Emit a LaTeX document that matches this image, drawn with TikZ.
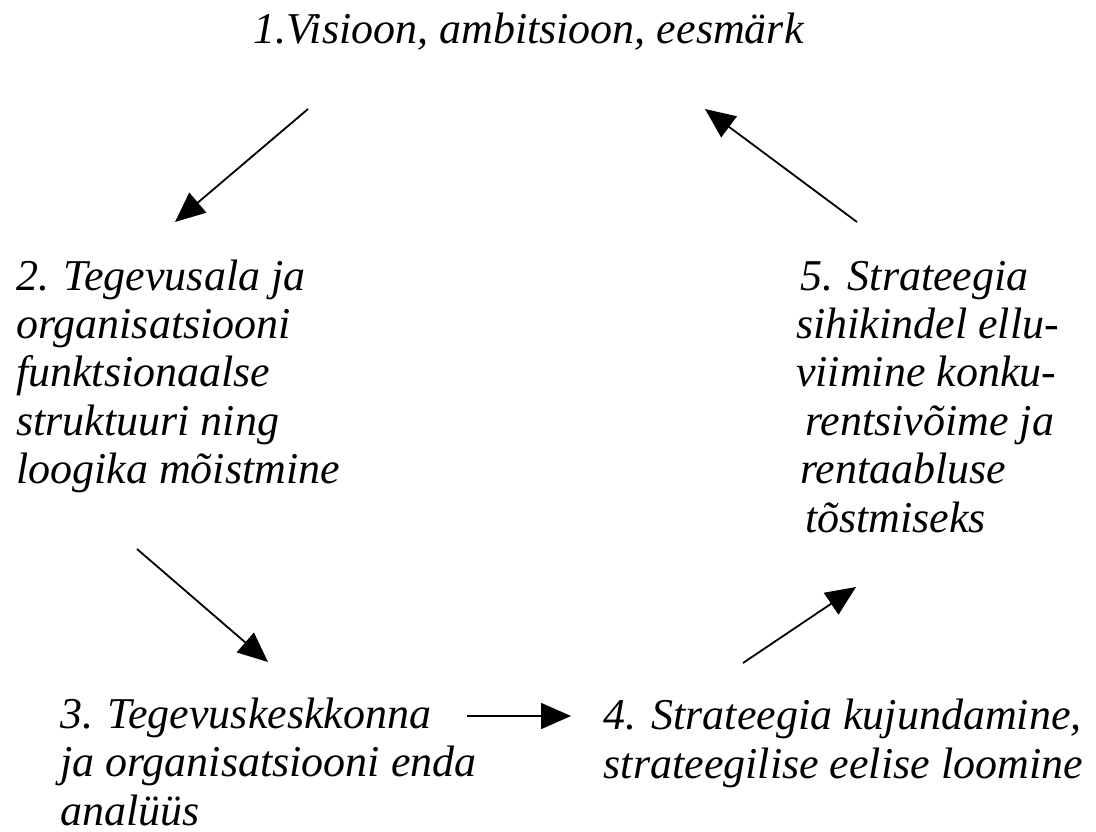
\documentclass[tikz,border=0pt]{standalone}
\usepackage{fontspec}
\setmainfont{Liberation Serif}
\usetikzlibrary{arrows.meta}
\begin{document}
\begin{tikzpicture}[x=1pt,y=-1pt,
  txt/.style={anchor=base west,inner sep=0pt,align=left,font=\itshape\fontsize{44}{48.4}\selectfont},
  txtr/.style={anchor=base east,inner sep=0pt,align=left,font=\itshape\fontsize{44}{48.4}\selectfont},
  arr/.style={line width=1.8pt,-{Triangle[length=30pt,width=26pt]}}]
\useasboundingbox (0,0) rectangle (1096,831);
\node[txt] (n1) at (253,43) {1.Visioon, ambitsioon, eesmärk};
\node[txt] (n2) at (16,483.6) {2. Tegevusala ja\\organisatsiooni\\funktsionaalse\\struktuuri ning\\loogika mõistmine};
\node[txt] (n5) at (800,532) {5. Strateegia\\\hspace*{-4pt}sihikindel ellu-\\\hspace*{-4pt}viimine konku-\\\hspace*{5pt}rentsivõime ja\\rentaabluse\\\hspace*{5pt}tõstmiseks};
\node[txt] (n3) at (60,825) {3. Tegevuskeskkonna\\ja organisatsiooni enda\\analüüs};
\node[txtr] (n4) at (1083,778) {4. Strateegia kujundamine,\\strateegilise eelise loomine};
\coordinate (a1s) at (308,109); \coordinate (a1e) at (175,222);
\coordinate (a2s) at (857,222); \coordinate (a2e) at (705,109);
\coordinate (a3s) at (137,549); \coordinate (a3e) at (268,662);
\coordinate (a4s) at (467,716); \coordinate (a4e) at (571,716);
\coordinate (a5s) at (743,663); \coordinate (a5e) at (856,587);
\draw[arr] (a1s) -- (a1e);
\draw[arr] (a2s) -- (a2e);
\draw[arr] (a3s) -- (a3e);
\draw[arr] (a4s) -- (a4e);
\draw[arr] (a5s) -- (a5e);
\end{tikzpicture}
\end{document}
